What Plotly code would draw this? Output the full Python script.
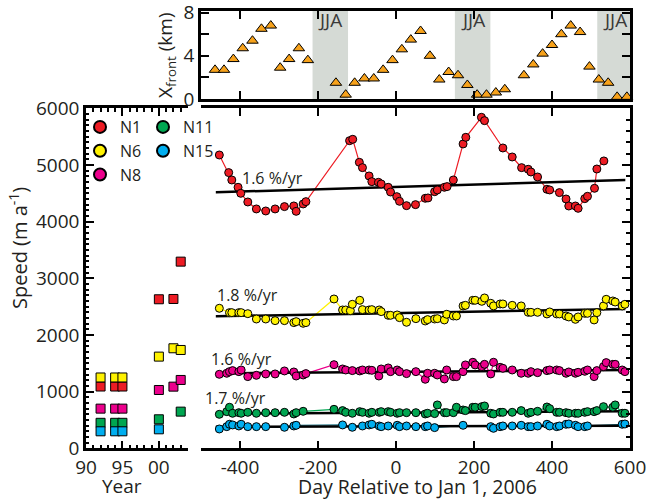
import plotly.graph_objects as go

FONT = "Open Sans"
TXT = "#231f20"

# ---------------- data ----------------
# left panel: historical speeds (squares)
year_ticks = [1990, 1995, 2000]
year_ticktext = ["90", "95", "00"]
hist_years = [1992, 1994, 1995, 2000, 2002, 2003]
hist_N1 = [1090, 1090, 1090, 2630, 2635, 3294]
hist_N6 = [1250, 1250, 1250, 1618, 1765, 1735]
hist_N8 = [700, 700, 700, 1029, 1088, 1206]
hist_N11 = [450, 450, 450, 512, None, 647]
hist_N15 = [300, 300, 300, 335, None, None]

# top panel: calving front position
front_day = [-464, -441, -417, -393, -368, -345, -321, -297, -274, -249, -226, -154, -129, -106,
             -81, -57, -33, -9, 15, 38, 63, 87, 111, 135, 159, 183, 208, 232, 256, 279, 328,
             352, 376, 400, 424, 448, 472, 496, 520, 544, 567, 592]
front_km = [2.7, 2.7, 3.7, 4.7, 5.4, 6.5, 6.8, 2.9, 3.7, 4.7, 3.6, 1.5, 0.4, 1.5, 1.9, 1.9,
            2.7, 3.6, 4.6, 5.5, 6.3, 4.0, 1.8, 2.5, 2.2, 1.3, 0.4, 0.4, 0.6, 0.9, 2.2, 3.2,
            4.2, 5.0, 6.0, 6.8, 6.2, 3.0, 1.8, 1.5, 0.2, 0.2]
front_ticks = [0, 2, 4, 6, 8]
front_ticktext = ["0", "", "4", "", "8"]
jja_start = [-214, 151, 516]
jja_end = [-123, 242, 607]
jja_label = "JJA"

# main panel: speed time series
N1_day = [-453, -429, -421, -405, -398, -380, -358, -334, -310, -286, -262, -256, -238, -231,
          -119, -111, -94, -86, -69, -62, -45, -38, -20, -14, 2, 9, 27, 50, 75, 82, 99, 106,
          124, 131, 147, 172, 179, 219, 227, 274, 298, 322, 339, 346, 363, 387, 394, 419, 436,
          443, 460, 467, 484, 491, 509, 515, 533]
N1_speed = [5176, 4865, 4735, 4606, 4500, 4347, 4224, 4188, 4224, 4265, 4277, 4182, 4312, 4353,
            5429, 5453, 5047, 4953, 4806, 4706, 4694, 4665, 4606, 4523, 4441, 4359, 4282, 4300,
            4412, 4418, 4529, 4559, 4606, 4618, 4735, 5371, 5488, 5841, 5782, 5300, 5141, 4953,
            4924, 4876, 4788, 4571, 4559, 4512, 4400, 4276, 4276, 4235, 4406, 4447, 4588, 4929,
            5071]

N6_day = [-453, -427, -421, -403, -397, -380, -358, -334, -310, -286, -262, -256, -238, -231,
          -159, -137, -129, -117, -112, -93, -86, -69, -62, -43, -38, -20, -14, 3, 9, 27, 51,
          75, 81, 99, 106, 124, 130, 147, 155, 172, 178, 197, 203, 220, 227, 243, 250, 267,
          274, 298, 321, 339, 346, 363, 387, 394, 412, 419, 436, 443, 460, 467, 484, 491, 508,
          515, 532, 539, 556, 562, 580, 587]
N6_speed = [2471, 2394, 2394, 2394, 2394, 2376, 2282, 2282, 2253, 2253, 2218, 2235, 2206, 2218,
            2635, 2441, 2441, 2429, 2541, 2612, 2447, 2441, 2447, 2441, 2412, 2347, 2347, 2353,
            2306, 2224, 2288, 2247, 2271, 2282, 2288, 2265, 2365, 2335, 2335, 2512, 2523, 2612,
            2612, 2594, 2653, 2559, 2512, 2547, 2547, 2523, 2512, 2400, 2400, 2400, 2371, 2406,
            2371, 2371, 2335, 2318, 2276, 2318, 2382, 2382, 2265, 2394, 2512, 2629, 2600, 2582,
            2512, 2541]

N8_day = [-453, -434, -427, -419, -403, -397, -380, -358, -334, -310, -286, -262, -256, -238,
          -231, -159, -137, -129, -112, -93, -86, -69, -62, -44, -38, -20, -14, 3, 9, 27, 51,
          75, 81, 99, 106, 124, 130, 147, 155, 172, 178, 197, 203, 220, 227, 243, 250, 267,
          274, 298, 321, 339, 346, 363, 387, 394, 412, 419, 436, 443, 460, 467, 484, 491, 508,
          515, 532, 539, 556, 562, 580, 587]
N8_speed = [1306, 1324, 1353, 1371, 1353, 1382, 1265, 1288, 1312, 1312, 1365, 1347, 1276, 1294,
            1318, 1476, 1400, 1382, 1371, 1365, 1382, 1382, 1376, 1276, 1400, 1418, 1353, 1382,
            1353, 1318, 1353, 1218, 1324, 1324, 1294, 1224, 1382, 1265, 1265, 1353, 1471, 1518,
            1471, 1441, 1482, 1312, 1518, 1429, 1412, 1382, 1324, 1324, 1353, 1335, 1371, 1382,
            1382, 1371, 1324, 1347, 1324, 1341, 1359, 1382, 1265, 1371, 1441, 1512, 1482, 1482,
            1382, 1353]

N11_day = [-453, -434, -427, -419, -403, -397, -380, -358, -334, -310, -286, -262, -256, -238,
           -159, -137, -129, -112, -93, -86, -69, -62, -43, -38, -20, -14, 3, 9, 27, 51, 75, 81,
           99, 106, 124, 130, 147, 155, 172, 178, 197, 203, 220, 227, 243, 250, 267, 274, 298,
           321, 339, 346, 363, 387, 394, 412, 419, 436, 443, 460, 467, 484, 491, 508, 515, 532,
           556, 562, 580, 587]
N11_speed = [600, 647, 724, 618, 629, 618, 635, 618, 629, 629, 635, 606, 629, 653, 688, 665, 635,
             618, 647, 635, 618, 635, 635, 647, 647, 635, 618, 629, 629, 629, 606, 618, 612, 765,
             629, 629, 629, 724, 676, 665, 724, 724, 735, 747, 618, 606, 635, 635, 635, 665, 618,
             635, 653, 729, 700, 635, 635, 629, 618, 618, 618, 635, 647, 647, 665, 735, 724, 765,
             618, 618]

N15_day = [-453, -434, -427, -419, -403, -397, -380, -358, -334, -286, -262, -256, -137, -112,
           -86, -69, -62, -43, -38, -20, 3, 9, 27, 51, 75, 81, 99, 172, 243, 250, 267, 274, 298,
           321, 339, 346, 363, 387, 394, 412, 419, 436, 443, 460, 467, 484, 491, 580, 587]
N15_speed = [341, 382, 424, 412, 394, 424, 382, 382, 382, 371, 394, 406, 412, 371, 394, 412, 424,
             394, 382, 394, 406, 382, 394, 382, 382, 394, 365, 406, 382, 353, 382, 394, 394, 406,
             382, 382, 394, 424, 394, 382, 394, 424, 429, 406, 382, 382, 394, 424, 429]

# linear trends (start/end)
trend_day = [-462, 588]
trend_N1 = [4518, 4735]
trend_N6 = [2329, 2459]
trend_N8 = [1322, 1382]
trend_N11 = [612, 652]
trend_N15 = [380, 400]

trend_text = ["1.6 %/yr", "1.8 %/yr", "1.6 %/yr", "1.7 %/yr", "1.4 %/yr"]
trend_text_day = [-400, -464, -479, -495, -536]
trend_text_speed = [4771, 2706, 1577, 888, 200]

day_ticks = [-400, -200, 0, 200, 400, 600]
day_ticktext = ["-400", "-200", "0", "200", "400", "600"]

series = [
    ("N1", "#ED1C24", N1_day, N1_speed, hist_N1, trend_N1, "legend"),
    ("N6", "#FFF200", N6_day, N6_speed, hist_N6, trend_N6, "legend"),
    ("N8", "#EC008C", N8_day, N8_speed, hist_N8, trend_N8, "legend"),
    ("N11", "#00A651", N11_day, N11_speed, hist_N11, trend_N11, "legend2"),
    ("N15", "#00AEEF", N15_day, N15_speed, hist_N15, trend_N15, "legend2"),
]

# ---------------- figure ----------------
fig = go.Figure()

# JJA shading in top panel
for s, e in zip(jja_start, jja_end):
    fig.add_shape(type="rect", xref="x3", yref="y3 domain", x0=s, x1=e, y0=0, y1=1,
                  fillcolor="#D5DAD5", line_width=0, layer="below")
    fig.add_annotation(x=(s + e) / 2, xref="x3", y=0.895, yref="y3 domain", text=jja_label,
                       showarrow=False, yanchor="middle", xanchor="center",
                       font=dict(family=FONT, size=19, color="#3a3a3a"))

fig.add_trace(go.Scatter(x=front_day, y=front_km, mode="markers", xaxis="x3", yaxis="y3",
                         showlegend=False, cliponaxis=False,
                         marker=dict(symbol="triangle-up", size=10, color="#F7A21B",
                                     line=dict(color="black", width=1))))

# historic squares (left panel)
for name, col, d, sp, hist, tr, lg in series:
    fig.add_trace(go.Scatter(x=hist_years, y=hist, mode="markers", xaxis="x", yaxis="y",
                             showlegend=False, cliponaxis=False,
                             marker=dict(symbol="square", size=9, color=col,
                                         line=dict(color="black", width=1))))

# time series
for name, col, d, sp, hist, tr, lg in series:
    linecol = "#1a6f80" if name == "N15" else col
    fig.add_trace(go.Scatter(x=d, y=sp, mode="lines", xaxis="x2", yaxis="y2",
                             showlegend=False, line=dict(color=linecol, width=1.2)))
for name, col, d, sp, hist, tr, lg in series:
    fig.add_trace(go.Scatter(x=trend_day, y=tr, mode="lines", xaxis="x2", yaxis="y2",
                             showlegend=False, line=dict(color="black", width=2.5)))
for name, col, d, sp, hist, tr, lg in series:
    fig.add_trace(go.Scatter(x=d, y=sp, mode="markers", xaxis="x2", yaxis="y2", name=name,
                             legend=lg, cliponaxis=False,
                             marker=dict(symbol="circle", size=8, color=col,
                                         line=dict(color="black", width=1))))

for t, xd, ys in zip(trend_text, trend_text_day, trend_text_speed):
    fig.add_annotation(x=xd, y=ys, xref="x2", yref="y2", text=t, showarrow=False,
                       xanchor="left", yanchor="middle",
                       font=dict(family=FONT, size=16, color=TXT))

# axis titles as annotations
def title(text, x, y, angle=0, size=20):
    fig.add_annotation(x=x / 650, y=1 - y / 500, xref="paper", yref="paper", text=text,
                       showarrow=False, textangle=angle, xanchor="center", yanchor="middle",
                       font=dict(family=FONT, size=size, color=TXT))

title("Speed (m a<sup>-1</sup>)", 18, 248, -90)
title("X<sub>front</sub> (km)", 166, 55, -90, 19)
title("Year", 122, 486, 0, 19)
title("Day Relative to Jan 1, 2006", 417, 486, 0, 19.5)

tickfont = dict(family=FONT, size=19, color=TXT)
common = dict(showgrid=False, zeroline=False, showline=True, linecolor="black", linewidth=2.5,
              ticks="inside", tickcolor="black", tickwidth=1.5, ticklen=8, automargin=False,
              tickfont=tickfont)

y_main = [1 - 448.3 / 500, 1 - 108.3 / 500]

fig.update_layout(
    width=650, height=500, margin=dict(l=0, r=0, t=0, b=0),
    paper_bgcolor="white", plot_bgcolor="white",
    font=dict(family=FONT, color=TXT),
    xaxis=dict(common, domain=[86 / 650, 188 / 650], range=[1990, 2004], anchor="y",
               tickvals=year_ticks, ticktext=year_ticktext, mirror="allticks",
               minor=dict(dtick=1, ticklen=4, tickcolor="black", ticks="inside")),
    yaxis=dict(common, domain=y_main, range=[0, 6000], anchor="x", dtick=1000, mirror=False,
               ticklabeloverflow="allow",
               minor=dict(dtick=100, ticklen=3, tickcolor="black", ticks="inside")),
    xaxis2=dict(common, domain=[201 / 650, 630 / 650], range=[-500, 600], anchor="y2",
                tickvals=day_ticks, ticktext=day_ticktext, mirror="allticks",
                ticklabeloverflow="allow"),
    yaxis2=dict(common, domain=y_main, range=[0, 6000], anchor="x2", side="right",
                dtick=1000, showticklabels=False, mirror=False,
                minor=dict(dtick=200, ticklen=4, tickcolor="black", ticks="inside")),
    xaxis3=dict(common, domain=[201 / 650, 630 / 650], range=[-500, 600], anchor="y3",
                dtick=200, showticklabels=False, mirror="allticks"),
    yaxis3=dict(common, domain=[1 - 99 / 500, 1 - 11 / 500], range=[0, 8.15], anchor="x3",
                tickvals=front_ticks, ticktext=front_ticktext, mirror="allticks",
                ticklabeloverflow="allow"),
    legend=dict(x=80 / 650, y=1 - 110 / 500, xanchor="left", yanchor="top",
                bgcolor="rgba(0,0,0,0)", itemsizing="constant", tracegroupgap=0,
                font=dict(family=FONT, size=16, color=TXT)),
    legend2=dict(x=143 / 650, y=1 - 110 / 500, xanchor="left", yanchor="top",
                 bgcolor="rgba(0,0,0,0)", itemsizing="constant", tracegroupgap=0,
                 font=dict(family=FONT, size=16, color=TXT)),
)

fig.write_html("out.html", config={"displayModeBar": False},
               post_script="document.body.style.margin='0px';")
